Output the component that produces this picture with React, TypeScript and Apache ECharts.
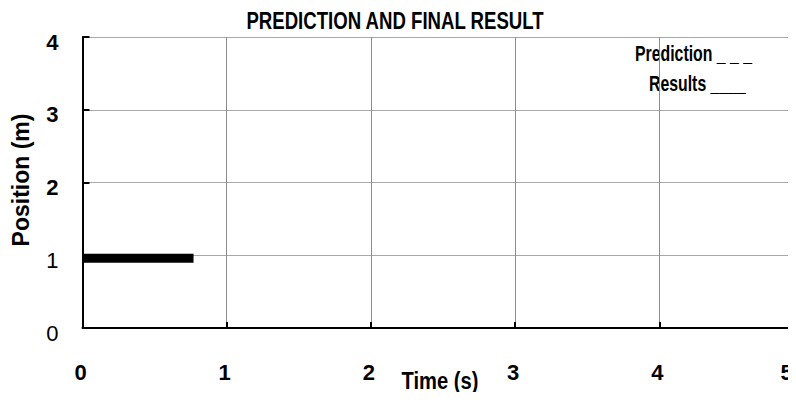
import React, { useEffect, useRef } from "react";
import * as echarts from "echarts";

const xTicks = [0, 1, 2, 3, 4, 5];
const yTicks = [0, 1, 2, 3, 4];
const boldYLabels = ["2", "3", "4"];
const resultTime = [0, 0.77];
const resultPosition = [0.96, 0.96];
const titleText = "PREDICTION AND FINAL RESULT";
const xName = "Time (s)";
const yName = "Position (m)";
const legendPrediction = "Prediction _ _ _";
const legendResults = "Results ____";

const FONT = '"Liberation Sans", Arial, Helvetica, sans-serif';

export default function App() {
  const ref = useRef<HTMLDivElement>(null);
  useEffect(() => {
    if (!ref.current) return;
    const chart = echarts.init(ref.current, null, { renderer: "svg" });
    const data = resultTime.map((t, i) => [t, resultPosition[i]]);
    const xMax = xTicks[xTicks.length - 1];
    const narrowText = (text: string, x: number, y: number, size: number, scaleX: number, align: string) => ({
      type: "text",
      x,
      y,
      scaleX,
      style: {
        text,
        fontFamily: FONT,
        fontWeight: "bold",
        fontSize: size,
        fill: "#000",
        align,
        verticalAlign: "middle",
      },
    });
    chart.setOption({
      animation: false,
      backgroundColor: "#ffffff",
      grid: {
        left: 82.5,
        width: 721,
        top: 37,
        bottom: 72,
        containLabel: false,
        outerBoundsMode: "none",
      },
      xAxis: {
        type: "value",
        min: xTicks[0],
        max: xMax,
        interval: 1,
        axisLine: { show: true, onZero: false, lineStyle: { color: "#000", width: 2 } },
        axisTick: { show: true, inside: true, length: 6, lineStyle: { color: "#000", width: 2 } },
        splitLine: { show: true, lineStyle: { color: "#8c8c8c", width: 1 } },
        axisLabel: {
          show: true,
          margin: 33,
          padding: [0, 4, 0, 0],
          color: "#000",
          showMinLabel: true,
          showMaxLabel: true,
          formatter: (v: number) => (v === xMax ? `{e|${v}}` : `{n|${v}}`),
          rich: {
            n: { fontFamily: FONT, fontWeight: "bold", fontSize: 22, color: "#000" },
            e: { fontFamily: FONT, fontWeight: "bold", fontSize: 22, color: "#000", padding: [0, 30, 0, 0] },
          },
        },
      },
      yAxis: {
        type: "value",
        min: yTicks[0],
        max: yTicks[yTicks.length - 1],
        interval: 1,
        axisLine: { show: true, lineStyle: { color: "#000", width: 2 } },
        axisTick: { show: true, inside: true, length: 7, lineStyle: { color: "#000", width: 2 } },
        splitLine: { show: true, lineStyle: { color: "#a8a8a8", width: 1 } },
        axisLabel: {
          show: true,
          margin: 24,
          padding: [10, 0, 0, 0],
          color: "#000",
          formatter: (v: number) => {
            const s = String(v);
            return boldYLabels.includes(s) ? `{b|${s}}` : `{r|${s}}`;
          },
          rich: {
            b: { fontFamily: FONT, fontWeight: "bold", fontSize: 22, color: "#000" },
            r: { fontFamily: FONT, fontWeight: "normal", fontSize: 22, color: "#000" },
          },
        },
      },
      graphic: [
        narrowText(titleText, 395, 21, 24, 0.775, "center"),
        {
          type: "text",
          x: 21,
          y: 180,
          rotation: Math.PI / 2,
          style: {
            text: yName,
            fontFamily: FONT,
            fontWeight: "bold",
            fontSize: 23,
            fill: "#000",
            align: "center",
            verticalAlign: "middle",
          },
        },
        narrowText(xName, 440, 381, 24, 0.84, "center"),
        narrowText(legendPrediction, 635, 54, 22, 0.72, "left"),
        narrowText(legendResults, 649, 84, 22, 0.72, "left"),
      ],
      series: [
        {
          type: "line",
          data,
          symbol: "none",
          lineStyle: { color: "#000", width: 9, cap: "butt" },
          clip: false,
          z: 5,
        },
      ],
    });
    return () => chart.dispose();
  }, []);
  return <div ref={ref} style={{ width: 796, height: 400, margin: -8 }} />;
}
